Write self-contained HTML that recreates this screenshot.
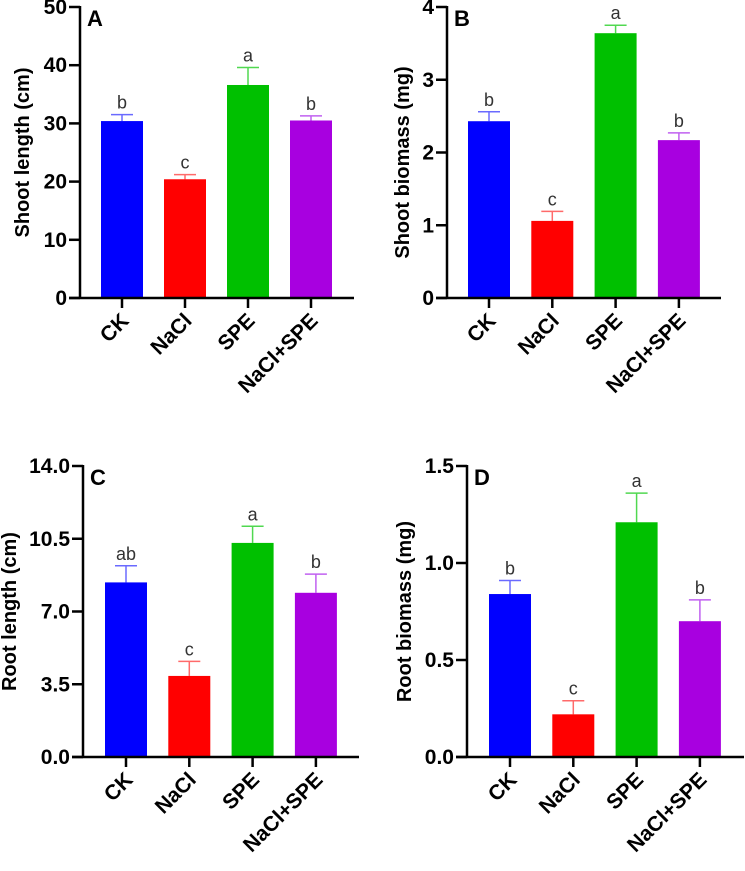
<!DOCTYPE html>
<html><head><meta charset="utf-8"><style>
body{margin:0;background:#fff}
svg text{font-family:"Liberation Sans",Arial,sans-serif}
</style></head><body>
<svg id="chart" width="745" height="866" xmlns="http://www.w3.org/2000/svg"></svg>
<script>
const categories = ["CK","NaCl","SPE","NaCl+SPE"];
const colors = ["#0000ff","#ff0000","#00c000","#a800e0"];
const errColors = ["#6a6aff","#ff6a6a","#50d850","#c060f0"];
const aValues = [30.4,20.4,36.6,30.5];
const aErrors = [1.1,0.8,3.0,0.8];
const aLetters = ["b","c","a","b"];
const aTicks = ["0","10","20","30","40","50"];
const bValues = [2.43,1.06,3.64,2.17];
const bErrors = [0.13,0.13,0.11,0.10];
const bLetters = ["b","c","a","b"];
const bTicks = ["0","1","2","3","4"];
const cValues = [8.4,3.9,10.3,7.9];
const cErrors = [0.8,0.7,0.8,0.9];
const cLetters = ["ab","c","a","b"];
const cTicks = ["0.0","3.5","7.0","10.5","14.0"];
const dValues = [0.84,0.22,1.21,0.70];
const dErrors = [0.07,0.07,0.15,0.11];
const dLetters = ["b","c","a","b"];
const dTicks = ["0.0","0.5","1.0","1.5"];

const svg = document.getElementById('chart');
const NS = "http://www.w3.org/2000/svg";
function mk(tag, attrs, parent){const e=document.createElementNS(NS,tag);for(const k in attrs)e.setAttribute(k,attrs[k]);(parent||svg).appendChild(e);return e;}

function panel(p){
  const g = mk('g',{});
  
  
  const max = parseFloat(p.ticks[p.ticks.length-1]);
  const y = v => p.zero - (v/max)*(p.zero-p.top);
  const x = i => p.x0 + p.off + i*p.step;
  p.values.forEach((v,i)=>{
    const cx=x(i), top=y(v), et=y(v+p.errors[i]);
    const el = mk('line',{x1:cx,x2:cx,y1:top,y2:et,stroke:errColors[i],'stroke-width':1.5},g);
    
    
    const cap = mk('line',{x1:cx-11,x2:cx+11,y1:et,y2:et,stroke:errColors[i],'stroke-width':1.5},g);
    
    
    const r = mk('rect',{x:cx-21,y:top,width:42,height:p.zero-top,fill:colors[i]},g);
    
    
    const t = mk('text',{x:cx,y:et-6,'text-anchor':'middle','font-size':18,fill:'#333'},g);
    t.textContent = p.letters[i];
    
    
    const tk = mk('line',{x1:cx,x2:cx,y1:p.zero,y2:p.zero+10,stroke:'#000','stroke-width':2.5},g);
    
    
    const lx=cx+8, ly=p.zero+24;
    const lab = mk('text',{x:lx,y:ly,'text-anchor':'end','font-size':21,'font-weight':'bold',transform:`rotate(-45 ${lx} ${ly})`},g);
    lab.textContent = categories[i];
    
    
  });
  const ya = mk('line',{x1:p.x0,x2:p.x0,y1:p.top-1,y2:p.zero+1,stroke:'#000','stroke-width':2.5},g);
  
  
  const xa = mk('line',{x1:p.x0-11,x2:p.xend,y1:p.zero,y2:p.zero,stroke:'#000','stroke-width':2.5},g);
  
  
  p.ticks.forEach(tv=>{
    const yy=y(parseFloat(tv));
    const l = mk('line',{x1:p.x0-11,x2:p.x0,y1:yy,y2:yy,stroke:'#000','stroke-width':2.5},g);
    
    
    const t = mk('text',{x:p.x0-13,y:yy+7,'text-anchor':'end','font-size':21,'font-weight':'bold'},g);
    t.textContent = tv;
    
    
  });
  const cy=(p.top+p.zero)/2 + p.titleDy;
  const yt = mk('text',{x:p.titleX,y:cy,'text-anchor':'middle','font-size':20,'font-weight':'bold',transform:`rotate(-90 ${p.titleX} ${cy})`},g);
  yt.textContent = p.title;
  
  
  const pl = mk('text',{x:p.x0+7,y:p.top+19,'font-size':22,'font-weight':'bold'},g);
  pl.textContent = p.id;
  
  
}
panel({id:'A',x0:80,off:42,step:63,top:7,zero:298,xend:354,ticks:aTicks,values:aValues,errors:aErrors,letters:aLetters,title:'Shoot length (cm)',titleX:29,titleDy:0});
panel({id:'B',x0:447,off:42,step:63.3,top:7,zero:298,xend:721,ticks:bTicks,values:bValues,errors:bErrors,letters:bLetters,title:'Shoot biomass (mg)',titleX:409,titleDy:10});
panel({id:'C',x0:83,off:43,step:63.3,top:466,zero:757,xend:359,ticks:cTicks,values:cValues,errors:cErrors,letters:cLetters,title:'Root length (cm)',titleX:16,titleDy:0});
panel({id:'D',x0:467,off:43,step:63.3,top:466,zero:757,xend:744,ticks:dTicks,values:dValues,errors:dErrors,letters:dLetters,title:'Root biomass (mg)',titleX:411,titleDy:0});
</script>
</body></html>
